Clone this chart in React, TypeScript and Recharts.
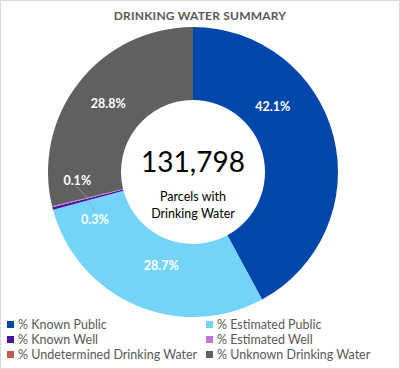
import { PieChart, Pie, Cell, Legend } from "recharts";

// Drinking water share by source, in percent of parcels
const categories = [
  "% Known Public",
  "% Estimated Public",
  "% Known Well",
  "% Estimated Well",
  "% Undetermined Drinking Water",
  "% Unknown Drinking Water",
];
const shares = [42.1, 28.7, 0.3, 0.1, 0.0, 28.8];
const totalParcels = "131,798";
const centerCaption = ["Parcels with", "Drinking Water"];

const COLORS = ["#0047ab", "#73d4f8", "#5010a0", "#c471dc", "#c0595a", "#606060"];
// label placement tweaks, per slice: [angle nudge in degrees, radius]
const LABEL_NUDGE: [number, number][] = [
  [25, 103], [4.5, 99], [11.3, 109], [-9.9, 116], [0, 108], [-0.8, 109],
];

const FONT = "Lato, 'Open Sans', sans-serif";
const RAD = Math.PI / 180;
const CX = 193;
const CY = 172;

const data = categories.map((name, i) => ({ name, value: shares[i] }));

function SliceLabel(props: any) {
  const { cx, cy, midAngle, index, value, innerRadius, outerRadius } = props;
  if (!value) return null;
  const [dA, r] = LABEL_NUDGE[index];
  const a = midAngle + dA;
  const x = cx + r * Math.cos(-a * RAD);
  const y = cy + r * Math.sin(-a * RAD);
  const small = value < 1;
  const mr = (innerRadius + outerRadius) / 2;
  const sx = cx + mr * Math.cos(-midAngle * RAD);
  const sy = cy + mr * Math.sin(-midAngle * RAD);
  const ly = y + (sy > y ? 7 : -7);
  return (
    <g>
      {small && <line x1={x} y1={ly} x2={sx} y2={sy} stroke="#a6a6a6" strokeWidth={0.75} />}
      <text
        x={x}
        y={y}
        fill="#ffffff"
        fontFamily={FONT}
        fontWeight={700}
        fontSize={12.5}
        textAnchor="middle"
        dominantBaseline="central"
      >
        {value.toFixed(1)}%
      </text>
    </g>
  );
}

function LegendGrid() {
  return (
    <div
      style={{
        display: "grid",
        gridTemplateColumns: "199px 190px",
        rowGap: 2,
        fontFamily: FONT,
        fontSize: 12.5,
        color: "#595959",
        paddingLeft: 7,
      }}
    >
      {categories.map((c, i) => (
        <div key={c} style={{ display: "flex", alignItems: "center", height: 13 }}>
          <span style={{ width: 7, height: 7, background: COLORS[i], marginRight: 4, flexShrink: 0 }} />
          <span style={{ whiteSpace: "nowrap" }}>{c}</span>
        </div>
      ))}
    </div>
  );
}

export default function App() {
  return (
    <div
      style={{
        position: "absolute",
        left: 0,
        top: 0,
        width: 400,
        height: 369,
        boxSizing: "border-box",
        border: "1px solid #d9d9d9",
        background: "#ffffff",
        overflow: "hidden",
      }}
    >
      <div
        style={{
          position: "absolute",
          top: 7,
          width: "100%",
          textAlign: "center",
          fontFamily: FONT,
          fontWeight: 700,
          fontSize: 12,
          color: "#595959",
          letterSpacing: 0.2,
        }}
      >
        DRINKING WATER SUMMARY
      </div>
      <div style={{ position: "absolute", left: -1, top: -1 }}>
        <PieChart width={400} height={369} margin={{ top: 0, right: 0, bottom: 0, left: 0 }}>
          <Pie
            data={data}
            dataKey="value"
            nameKey="name"
            cx={CX}
            cy={CY}
            innerRadius={72}
            outerRadius={145}
            startAngle={90}
            endAngle={-270}
            stroke="none"
            label={SliceLabel}
            labelLine={false}
            isAnimationActive={false}
          >
            {data.map((d, i) => (
              <Cell key={d.name} fill={COLORS[i]} />
            ))}
          </Pie>
          <Legend
            content={LegendGrid}
            wrapperStyle={{ position: "absolute", top: 318, left: 0, width: 400 }}
          />
        </PieChart>
        <div
          style={{
            position: "absolute",
            left: CX - 70,
            top: CY - 28,
            width: 140,
            textAlign: "center",
            fontFamily: FONT,
            color: "#000000",
            pointerEvents: "none",
          }}
        >
          <div style={{ fontSize: 28, lineHeight: "34px" }}>{totalParcels}</div>
          <div style={{ fontSize: 12.5, lineHeight: "17px", marginTop: 10 }}>
            {centerCaption[0]}
            <br />
            {centerCaption[1]}
          </div>
        </div>
      </div>
    </div>
  );
}
